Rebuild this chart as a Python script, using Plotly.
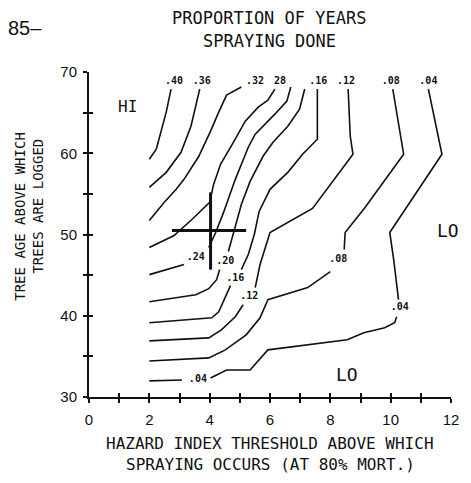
import plotly.graph_objects as go

# Contour lines of the proportion of years in which spraying is done.
# x: hazard index threshold, y: tree age above which trees are logged.
# None breaks a line where its label sits.
c40_x = [2.72, 2.56, 2.23, 2.0]
c40_y = [67.9, 65.06, 60.49, 59.26]

c36_x = [3.67, 3.38, 3.05, 2.56, 2.0]
c36_y = [67.9, 63.33, 60.12, 57.65, 55.80]

c32_x = [5.05, 4.56, 4.30, 4.03, 3.64, 3.15, 2.89, 2.49, 2.0]
c32_y = [68.15, 67.16, 65.06, 62.72, 59.63, 56.79, 55.56, 53.95, 51.73]

c28_x = [6.16, 5.93, 5.61, 5.18, 4.79, 4.36, 4.13, 4.0, 3.41, 2.82, 2.0]
c28_y = [67.9, 66.54, 65.68, 63.95, 61.36, 58.64, 56.17, 53.95, 51.85, 49.88, 48.40]

c24_x = [6.69, 6.56, 6.16, 5.51, 5.28, 4.85, 4.46, 4.20, 3.97, None, 3.15, 2.59, 2.0]
c24_y = [68.15, 66.42, 64.81, 62.35, 60.74, 56.79, 52.72, 50.25, 48.40, None, 46.30, 45.68, 45.06]

c20_x = [7.15, 6.98, 6.59, 6.10, 5.77, 5.34, 5.05, 4.79, 4.62, None, 4.33, 4.23, 3.97, 3.54, 2.0]
c20_y = [67.90, 65.43, 63.33, 61.36, 59.63, 56.54, 53.70, 50.0, 47.90, None, 45.68, 44.44, 43.33, 42.59, 41.73]

c16_x = [7.57, 7.57, 7.08, 6.59, 6.0, 5.64, 5.48, 5.28, 5.05, None, 4.69, 4.52, 4.30, 4.07, 2.0]
c16_y = [67.90, 61.73, 59.88, 57.65, 55.56, 52.84, 50.0, 47.53, 45.68, None, 43.70, 42.35, 40.49, 39.75, 39.14]

c12_x = [8.59, 8.66, 8.75, 8.13, 7.41, 6.0, 5.67, 5.51, None, 5.11, 4.85, 4.39, 3.97, 2.0]
c12_y = [67.90, 62.10, 59.88, 56.79, 53.21, 50.25, 46.30, 43.46, None, 41.36, 39.88, 38.27, 37.28, 36.91]

c08_x = [10.07, 10.43, 9.15, 8.49, 8.46, None, 8.0, 7.25, 5.93, 5.67, 5.21, 4.52, 3.97, 2.0]
c08_y = [67.90, 59.88, 53.33, 50.25, 48.15, None, 45.43, 43.46, 41.98, 39.75, 37.65, 35.80, 34.81, 34.44]

c04_x = [11.25, 11.70, 9.97, 10.10, 10.26, None, 10.20, 10.13, 9.80, 9.11, 8.56, 5.93, 5.34, 4.56, 4.03, None, 3.08, 2.0]
c04_y = [67.90, 59.88, 50.25, 46.91, 41.98, None, 39.88, 39.14, 38.52, 37.90, 37.04, 35.80, 33.33, 33.33, 32.35, None, 32.10, 31.98]

# Contour labels
label_text = [".40", ".36", ".32", "28", ".16", ".12", ".08", ".04",
              ".24", ".20", ".16", ".12", ".08", ".04", ".04"]
label_x = [2.82, 3.74, 5.5, 6.33, 7.6, 8.52, 10.0, 11.25,
           3.54, 4.52, 4.85, 5.31, 8.26, 10.30, 3.61]
label_y = [68.8, 68.8, 68.8, 68.8, 68.8, 68.8, 68.8, 68.8,
           47.16, 46.67, 44.57, 42.35, 46.91, 41.0, 32.10]

# Region notes
region_text = ["HI", "LO", "LO"]
region_x = [1.28, 11.9, 8.56]
region_y = [65.8, 50.5, 32.8]

# Current operating point with its spread
cross_x = 4.03
cross_y = 50.5
cross_left, cross_right = 1.28, 1.18
cross_down, cross_up = 4.82, 4.69

x_ticks = list(range(0, 13))
x_ticklabels = [str(v) if v % 2 == 0 else "" for v in x_ticks]
y_ticks = list(range(30, 71, 5))
y_ticklabels = [str(v) if v % 10 == 0 else "" for v in y_ticks]

MONO = "DejaVu Sans Mono"
SANS = "Liberation Sans"
INK = "#111111"

fig = go.Figure()

contours = [(c40_x, c40_y), (c36_x, c36_y), (c32_x, c32_y), (c28_x, c28_y),
            (c24_x, c24_y), (c20_x, c20_y), (c16_x, c16_y), (c12_x, c12_y),
            (c08_x, c08_y), (c04_x, c04_y)]
for cx, cy in contours:
    fig.add_trace(go.Scatter(x=cx, y=cy, mode="lines",
                             line=dict(color=INK, width=1.6),
                             connectgaps=False, hoverinfo="skip",
                             showlegend=False))

fig.add_trace(go.Scatter(
    x=label_x, y=label_y, mode="text", text=label_text,
    textfont=dict(family=MONO, size=10, color=INK, weight="bold"),
    textposition="middle center", showlegend=False, hoverinfo="skip"))

# Cross drawn with error bars, on the overlay axes
fig.add_trace(go.Scatter(
    x=[cross_x], y=[cross_y], mode="markers",
    marker=dict(size=1, color=INK),
    error_x=dict(type="data", symmetric=False, array=[cross_right],
                 arrayminus=[cross_left], width=0, thickness=3, color=INK),
    error_y=dict(type="data", symmetric=False, array=[cross_up],
                 arrayminus=[cross_down], width=0, thickness=3, color=INK),
    xaxis="x2", yaxis="y2", showlegend=False, hoverinfo="skip"))

for t, x, y, s in zip(region_text, region_x, region_y, [16, 18, 18]):
    fig.add_annotation(x=x, y=y, text=t, showarrow=False,
                       font=dict(family=MONO, size=s, color=INK))

PW, PH, L, B = 366, 325, 89, 86


def px(p):
    return (p - L) / PW


def py(p):
    return (483 - B - p) / PH


texts = [
    ("PROPORTION OF YEARS", 271, 18, 17, 0),
    ("SPRAYING DONE", 271, 41, 17, 0),
    ("HAZARD INDEX THRESHOLD ABOVE WHICH", 272, 443, 16, 0),
    ("SPRAYING OCCURS (AT 80% MORT.)", 272, 465, 16, 0),
    ("TREE AGE ABOVE WHICH", 19, 216, 14, -90),
    ("TREES ARE LOGGED", 37, 206, 14, -90),
]
for t, x, y, s, ang in texts:
    fig.add_annotation(xref="paper", yref="paper", x=px(x), y=py(y),
                       text=t, showarrow=False, textangle=ang,
                       xanchor="center", yanchor="middle",
                       font=dict(family=MONO, size=s, color=INK))

fig.add_annotation(xref="paper", yref="paper", x=px(44), y=py(28),
                   text="85–", showarrow=False, xanchor="right",
                   yanchor="middle", font=dict(family=SANS, size=20, color=INK))

axis_common = dict(showgrid=False, zeroline=False, color=INK)
fig.update_layout(
    width=471, height=483,
    margin=dict(l=L, r=16, t=72, b=B),
    paper_bgcolor="white", plot_bgcolor="white",
    xaxis=dict(range=[0, 12], tickvals=x_ticks, ticktext=x_ticklabels,
               ticks="outside", ticklen=4, tickwidth=1.5,
               showline=True, linewidth=2, linecolor=INK,
               tickfont=dict(family=SANS, size=15, color=INK),
               ticklabelstandoff=4, **axis_common),
    yaxis=dict(range=[30, 70], tickvals=y_ticks, ticktext=y_ticklabels,
               ticks="outside", ticklen=4, tickwidth=1.5,
               showline=True, linewidth=2, linecolor=INK,
               tickfont=dict(family=SANS, size=15, color=INK),
               ticklabelstandoff=3, **axis_common),
    xaxis2=dict(range=[0, 12], overlaying="x", anchor="y2", side="bottom",
                tickvals=x_ticks, showticklabels=False, ticks="inside",
                ticklen=4, tickwidth=1.5, showline=False, **axis_common),
    yaxis2=dict(range=[30, 70], overlaying="y", anchor="x2", side="left",
                tickvals=y_ticks, showticklabels=False, ticks="inside",
                ticklen=4, tickwidth=1.5, showline=False, **axis_common),
)

fig.write_html("out.html")
